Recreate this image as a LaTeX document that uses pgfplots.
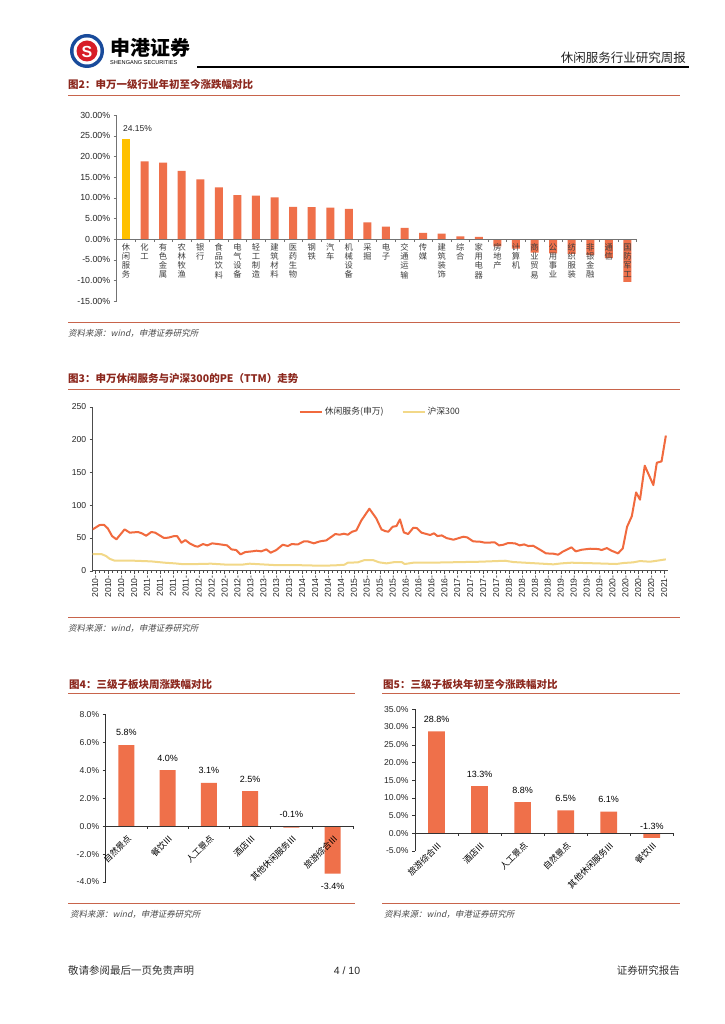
\documentclass[border=0pt]{standalone}
\usepackage{fontspec}
\usepackage{pgfplots}
\pgfplotsset{compat=1.18}
\setmainfont{Liberation Sans}
\newfontfamily\cjk{Noto Sans CJK SC}
\newfontfamily\cjksl[FakeSlant=0.22]{Noto Sans CJK SC}
\definecolor{barorange}{RGB}{239,112,74}
\definecolor{bargold}{RGB}{255,192,0}
\definecolor{peorange}{RGB}{241,106,62}
\definecolor{hsyellow}{RGB}{242,216,136}
\definecolor{titlered}{RGB}{140,40,30}
\definecolor{rulered}{RGB}{200,100,75}
\definecolor{logoblue}{RGB}{25,75,155}
\definecolor{logored}{RGB}{215,30,40}
\newcommand{\fs}[1]{\fontsize{#1}{#1}\selectfont}
\begin{document}
\begin{tikzpicture}
\fill[white] (0,0) rectangle (724pt,-1024pt);
\begin{scope}[x=1pt,y=-1pt]
  % header
  \fill[logoblue] (87,51) circle (17);
  \fill[white] (87,51) circle (13.5);
  \fill[logored] (87,51) circle (10.5);
  \node[white, font=\bfseries\fs{16}] at (87,51.5) {S};
  \node[anchor=west, font=\cjk\bfseries\fs{20}, inner sep=0pt] at (110,48) {申港证券};
  \node[anchor=west, font=\fs{5.6}, inner sep=0pt] at (110,63) {SHENGANG SECURITIES};
  \draw[line width=1.3pt] (197,67) -- (689,67);
  \node[anchor=base east, font=\cjk\fs{12.5}, text=black!85, inner sep=0pt] at (686,63) {休闲服务行业研究周报};
  % figure 2 frame
  \node[anchor=west, font=\cjk\bfseries\fs{10.5}, text=titlered, inner sep=0pt] at (68,84) {图2：申万一级行业年初至今涨跌幅对比};
  \draw[rulered, line width=0.8pt] (68,95.5) -- (680,95.5);
  \draw[rulered, line width=0.8pt] (68,322) -- (680,322);
  \node[anchor=west, font=\cjksl\fs{8.5}, text=black!70, inner sep=0pt] at (68,333) {资料来源：wind，申港证券研究所};
  % figure 3 frame
  \node[anchor=west, font=\cjk\bfseries\fs{10.5}, text=titlered, inner sep=0pt] at (68,379) {图3：申万休闲服务与沪深300的PE（TTM）走势};
  \draw[rulered, line width=0.8pt] (68,389) -- (680,389);
  \draw[rulered, line width=0.8pt] (68,617.7) -- (680,617.7);
  \node[anchor=west, font=\cjksl\fs{8.5}, text=black!70, inner sep=0pt] at (68,628) {资料来源：wind，申港证券研究所};
  % figure 4 frame
  \node[anchor=west, font=\cjk\bfseries\fs{10.5}, text=titlered, inner sep=0pt] at (69,684) {图4：三级子板块周涨跌幅对比};
  \draw[rulered, line width=0.8pt] (68,693.3) -- (355,693.3);
  \draw[rulered, line width=0.8pt] (68,903.3) -- (355,903.3);
  \node[anchor=west, font=\cjksl\fs{8.5}, text=black!70, inner sep=0pt] at (70,914) {资料来源：wind，申港证券研究所};
  % figure 5 frame
  \node[anchor=west, font=\cjk\bfseries\fs{10.5}, text=titlered, inner sep=0pt] at (383,684) {图5：三级子板块年初至今涨跌幅对比};
  \draw[rulered, line width=0.8pt] (382,693.3) -- (680,693.3);
  \draw[rulered, line width=0.8pt] (382,903.3) -- (680,903.3);
  \node[anchor=west, font=\cjksl\fs{8.5}, text=black!70, inner sep=0pt] at (384,914) {资料来源：wind，申港证券研究所};
  % footer
  \node[anchor=west, font=\cjk\fs{10.5}, text=black!80, inner sep=0pt] at (68,971) {敬请参阅最后一页免责声明};
  \node[font=\fs{10.5}, text=black!85, inner sep=0pt] at (347,971) {4 / 10};
  \node[anchor=east, font=\cjk\fs{10.5}, text=black!80, inner sep=0pt] at (680,971) {证券研究报告};
\end{scope}

% ---------- Figure 2 ----------
\begin{axis}[
  at={(116.7pt,-301pt)}, anchor=south west,
  scale only axis, width=520pt, height=186pt,
  xmin=-0.5, xmax=27.5, ymin=-15, ymax=30,
  axis x line=middle, axis y line=left,
  axis line style={-, draw=black!55, line width=0.6pt},
  axis on top,
  hide obscured x ticks=false, hide obscured y ticks=false,
  ytick={-15,-10,...,30},
  yticklabels={-15.00\%,-10.00\%,-5.00\%,0.00\%,5.00\%,10.00\%,15.00\%,20.00\%,25.00\%,30.00\%},
  xtick={0,...,27},
  xticklabels={{休\\闲\\服\\务},{化\\工},{有\\色\\金\\属},{农\\林\\牧\\渔},{银\\行},{食\\品\\饮\\料},{电\\气\\设\\备},{轻\\工\\制\\造},{建\\筑\\材\\料},{医\\药\\生\\物},{钢\\铁},{汽\\车},{机\\械\\设\\备},{采\\掘},{电\\子},{交\\通\\运\\输},{传\\媒},{建\\筑\\装\\饰},{综\\合},{家\\用\\电\\器},{房\\地\\产},{计\\算\\机},{商\\业\\贸\\易},{公\\用\\事\\业},{纺\\织\\服\\装},{非\\银\\金\\融},{通\\信},{国\\防\\军\\工}},
  xtick style={draw=none},
  ytick style={draw=black!55},
  tick align=outside, major tick length=3pt,
  yticklabel style={font=\fs{8.8}, text=black!85},
  xticklabel style={font=\cjk\fontsize{8.3}{9.1}\selectfont, align=center, anchor=north, text=black!75, inner sep=1.5pt},
  clip=false,
]
\addplot[ybar, bar width=8pt, bar shift=0pt, fill=bargold, draw=none] coordinates {(0,24.15)};
\addplot[ybar, bar width=8pt, bar shift=0pt, fill=barorange, draw=none] coordinates {
  (1,18.8) (2,18.5) (3,16.5) (4,14.4) (5,12.5) (6,10.6) (7,10.5) (8,10.1) (9,7.8)
  (10,7.7) (11,7.6) (12,7.3) (13,4.0) (14,3.0) (15,2.7) (16,1.5) (17,1.3) (18,0.65)
  (19,0.5) (20,-1.8) (21,-2.3) (22,-3.3) (23,-3.5) (24,-3.6) (25,-3.9) (26,-4.6) (27,-10.4)
};
\pgfplotsinvokeforeach{-0.5,0.5,...,27.5}{\draw[black!55, line width=0.6pt] (axis cs:#1,0) -- ++(0pt,-3pt);}
\node[font=\fs{8.5}, text=black!85] at (axis cs:0.62,26.6) {24.15\%};
\end{axis}

% ---------- Figure 3 ----------
\begin{axis}[
  at={(92.7pt,-570.7pt)}, anchor=south west,
  scale only axis, width=575.3pt, height=164pt,
  xmin=-0.6, xmax=132.9, ymin=0, ymax=250,
  axis x line=bottom, axis y line=left,
  axis line style={-, draw=black!70, line width=0.6pt},
  ytick={0,50,...,250},
  xtick={0,3,...,132},
  xticklabels={2010-,2010-,2010-,2010-,2011-,2011-,2011-,2011-,2012-,2012-,2012-,2012-,2013-,2013-,2013-,2013-,2014-,2014-,2014-,2014-,2015-,2015-,2015-,2015-,2016-,2016-,2016-,2016-,2017-,2017-,2017-,2017-,2018-,2018-,2018-,2018-,2019-,2019-,2019-,2019-,2020-,2020-,2020-,2020-,2021-},
  minor x tick num=2,
  tick align=outside, major tick length=3pt, minor tick length=2pt,
  tick style={draw=black!70},
  /pgf/number format/assume math mode=true,
  yticklabel style={font=\fs{8.6}, text=black!85},
  xticklabel style={font=\fs{8.6}, text=black!85, rotate=90, anchor=east, inner sep=1.5pt},
  legend style={draw=none, fill=none, at={(0.358,0.968)}, anchor=west, legend columns=2,
    font=\cjk\fs{8.8}, text=black!80, inner sep=0pt,
    /tikz/every even column/.append style={column sep=16pt}},
  legend image code/.code={\draw[#1] (0pt,0pt) -- (22pt,0pt);},
]
\addplot[peorange, line width=2pt, line join=round] coordinates {
  (-0.6,63) (1.0,69.6) (2.0,70) (2.9,64.5) (3.9,52.8) (4.9,47.8) (6.8,63) (8.0,58)
  (9.9,59) (10.8,57) (11.8,53.3) (13.0,59) (13.9,58) (14.9,54) (15.9,50) (16.9,50.3)
  (18.3,52.8) (19.0,52.8) (20.0,42.7) (20.9,46.7) (21.9,41.7) (23.1,37.6) (23.8,36.6)
  (25.0,40.6) (26.0,38.6) (27.1,41.7) (28.5,40.6) (30.6,38.6) (31.6,32.5) (32.7,31.5)
  (33.7,24.9) (34.8,28.4) (36.4,29.5) (37.4,30.5) (38.5,29.5) (39.7,32.5) (40.7,27.4)
  (42.0,31.5) (43.5,39.6) (44.7,37.6) (45.6,40.6) (47.0,40) (48.4,44.7) (49.3,44.7)
  (50.7,41.7) (52.1,44.7) (53.6,46.2) (54.6,50.8) (55.7,55.9) (56.7,54.9) (57.7,56.4)
  (58.6,54.9) (59.6,59.4) (60.6,61.5) (61.7,76.2) (63.6,94.5) (65.2,79.8) (66.4,63)
  (67.2,60.5) (68.0,59.4) (69.0,67) (69.9,68.1) (70.7,78.2) (71.6,58.4) (72.6,55.9)
  (73.8,65.5) (74.6,65) (75.7,58) (77.7,54.4) (78.6,57) (79.4,52.8) (80.4,53.8)
  (81.5,49.8) (83.1,47.2) (85.4,51.8) (86.3,50.8) (87.7,44.7) (89.3,44.2) (90.4,42.7)
  (92.7,43.2) (93.7,38.6) (94.7,39.6) (95.8,42.2) (97.4,41.7) (98.5,38.6) (99.5,40.1)
  (100.5,37.6) (101.6,38.1) (103.2,32) (104.6,26.4) (106.3,25.9) (107.4,24.4)
  (108.6,29.5) (110.5,35.6) (111.5,29.5) (112.9,32) (114.8,33.5) (116.7,33) (117.5,31.5)
  (118.7,34.5) (119.8,30.5) (121.3,26.4) (122.4,34) (123.4,67) (124.5,83) (125.5,119.4)
  (126.4,108.3) (127.5,160.1) (129.5,130.6) (130.3,164.6) (131.4,166.6) (132.4,206)
};
\addlegendentry{休闲服务(申万)}
\addplot[hsyellow, line width=2pt, line join=round] coordinates {
  (-0.6,25.4) (1.4,25.4) (2.5,22.4) (3.3,18.3) (4.5,15.2) (5.6,15.2) (6.8,15.5) (9.1,15.2)
  (13.0,14.2) (16.1,12.2) (18.4,11.2) (20.0,10.2) (23.8,10.2) (26.9,10.7) (30.8,9.1)
  (33.9,9.1) (35.8,10.7) (38.5,9.7) (41.6,8.6) (46.2,8.6) (52.4,7.6) (55.5,8.1) (57.8,9.1)
  (58.6,12.2) (60.9,12.7) (62.5,16.3) (64.4,16.3) (65.9,12.7) (67.6,11.2) (69.5,13.2)
  (71.1,13.2) (71.8,10.2) (73.8,12.2) (77.7,12.2) (85.4,13.2) (89.3,13.7) (95.1,15.2)
  (97.0,13.2) (102.4,11.2) (106.3,9.7) (108.2,11.2) (110.5,12.2) (116.3,11.2) (120.9,10.2)
  (122.5,11.7) (124.8,12.7) (126.4,14.7) (128.7,13.7) (130.3,15.2) (132.4,17.3)
};
\addlegendentry{沪深300}
\end{axis}

% ---------- Figure 4 ----------
\begin{axis}[
  at={(105.7pt,-882pt)}, anchor=south west,
  scale only axis, width=247.6pt, height=167.7pt,
  xmin=-0.5, xmax=5.5, ymin=-4, ymax=8,
  axis x line=middle, axis y line=left,
  axis line style={-, draw=black!80, line width=0.6pt},
  axis on top,
  hide obscured x ticks=false, hide obscured y ticks=false,
  ytick={-4,-2,...,8},
  yticklabels={-4.0\%,-2.0\%,0.0\%,2.0\%,4.0\%,6.0\%,8.0\%},
  xtick={0,...,5},
  xticklabels={自然景点,餐饮Ⅲ,人工景点,酒店Ⅲ,其他休闲服务Ⅲ,旅游综合Ⅲ},
  xtick style={draw=none},
  ytick style={draw=black!80},
  tick align=outside, major tick length=3pt,
  yticklabel style={font=\fs{8.6}, text=black!85},
  xticklabel style={font=\cjk\fs{8.6}, text=black, yshift=-7pt, xshift=4pt, rotate=45, anchor=east, inner sep=1pt},
  clip=false,
]
\addplot[ybar, bar width=16pt, bar shift=0pt, fill=barorange, draw=none] coordinates {
  (0,5.8) (1,4.0) (2,3.1) (3,2.5) (4,-0.1) (5,-3.4)
};
\pgfplotsinvokeforeach{-0.5,0.5,...,5.5}{\draw[black!80, line width=0.6pt] (axis cs:#1,0) -- ++(0pt,-3pt);}
\node[font=\fs{9}, anchor=south, yshift=5.5pt] at (axis cs:0,5.8) {5.8\%};
\node[font=\fs{9}, anchor=south, yshift=5.5pt] at (axis cs:1,4.0) {4.0\%};
\node[font=\fs{9}, anchor=south, yshift=5.5pt] at (axis cs:2,3.1) {3.1\%};
\node[font=\fs{9}, anchor=south, yshift=5.5pt] at (axis cs:3,2.5) {2.5\%};
\node[font=\fs{9}, anchor=south, yshift=4.5pt] at (axis cs:4,0) {-0.1\%};
\node[font=\fs{9}, anchor=north, yshift=-6pt] at (axis cs:5,-3.4) {-3.4\%};
\end{axis}

% ---------- Figure 5 ----------
\begin{axis}[
  at={(415pt,-851pt)}, anchor=south west,
  scale only axis, width=258.3pt, height=141.7pt,
  xmin=-0.5, xmax=5.5, ymin=-5, ymax=35,
  axis x line=middle, axis y line=left,
  axis line style={-, draw=black!80, line width=0.6pt},
  axis on top,
  hide obscured x ticks=false, hide obscured y ticks=false,
  ytick={-5,0,...,35},
  yticklabels={-5.0\%,0.0\%,5.0\%,10.0\%,15.0\%,20.0\%,25.0\%,30.0\%,35.0\%},
  xtick={0,...,5},
  xticklabels={旅游综合Ⅲ,酒店Ⅲ,人工景点,自然景点,其他休闲服务Ⅲ,餐饮Ⅲ},
  xtick style={draw=none},
  ytick style={draw=black!80},
  tick align=outside, major tick length=3pt,
  yticklabel style={font=\fs{8.6}, text=black!85},
  xticklabel style={font=\cjk\fs{8.6}, text=black, yshift=-7pt, xshift=4pt, rotate=45, anchor=east, inner sep=1pt},
  clip=false,
]
\addplot[ybar, bar width=16.7pt, bar shift=0pt, fill=barorange, draw=none] coordinates {
  (0,28.8) (1,13.3) (2,8.8) (3,6.5) (4,6.1) (5,-1.3)
};
\pgfplotsinvokeforeach{-0.5,0.5,...,5.5}{\draw[black!80, line width=0.6pt] (axis cs:#1,0) -- ++(0pt,-3pt);}
\node[font=\fs{9}, anchor=south, yshift=5.5pt] at (axis cs:0,28.8) {28.8\%};
\node[font=\fs{9}, anchor=south, yshift=5.5pt] at (axis cs:1,13.3) {13.3\%};
\node[font=\fs{9}, anchor=south, yshift=5.5pt] at (axis cs:2,8.8) {8.8\%};
\node[font=\fs{9}, anchor=south, yshift=5.5pt] at (axis cs:3,6.5) {6.5\%};
\node[font=\fs{9}, anchor=south, yshift=5.5pt] at (axis cs:4,6.1) {6.1\%};
\node[font=\fs{9}, anchor=south, yshift=0pt] at (axis cs:5,0) {-1.3\%};
\end{axis}
\end{tikzpicture}
\end{document}
